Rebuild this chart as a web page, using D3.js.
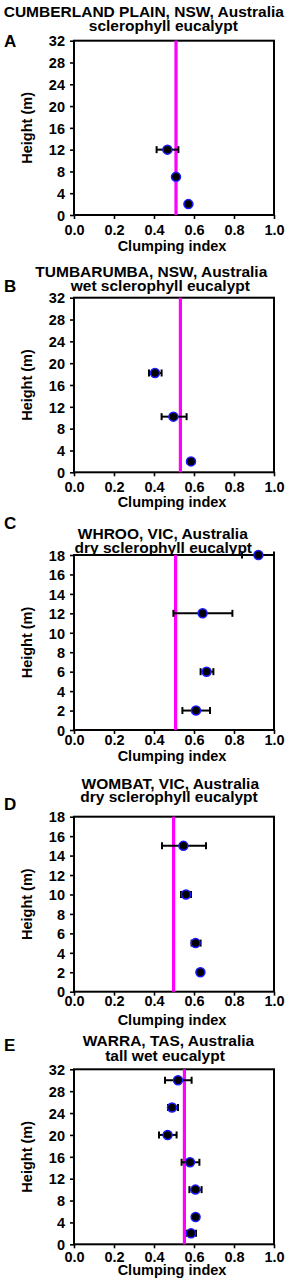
<!DOCTYPE html>
<html>
<head>
<meta charset="utf-8">
<script src="https://cdn.jsdelivr.net/npm/d3@7"></script>
<style>
  body { margin: 0; background: #fff; }
  text { font-family: "Liberation Sans", Arial, sans-serif; font-weight: bold; fill: #000; }
</style>
</head>
<body>
<svg id="chart" width="287" height="1286"></svg>
<script>
// ---- data ----
const titlesA = ["CUMBERLAND PLAIN, NSW, Australia", "sclerophyll eucalypt"];
const heightA = [12, 7, 2];
const ciA     = [0.467, 0.51, 0.572];
const loA     = [0.413, 0.51, 0.572];
const hiA     = [0.522, 0.51, 0.572];
const meanA   = 0.51;

const titlesB = ["TUMBARUMBA, NSW, Australia", "wet sclerophyll eucalypt"];
const heightB = [18.2, 10.2, 2];
const ciB     = [0.405, 0.497, 0.585];
const loB     = [0.375, 0.438, 0.585];
const hiB     = [0.438, 0.563, 0.585];
const meanB   = 0.532;

const titlesC = ["WHROO, VIC, Australia", "dry sclerophyll eucalypt"];
const heightC = [18, 12, 6, 2];
const ciC     = [0.922, 0.643, 0.663, 0.61];
const loC     = [0.84, 0.497, 0.633, 0.542];
const hiC     = [1.0, 0.792, 0.697, 0.68];
const meanC   = 0.508;

const titlesD = ["WOMBAT, VIC, Australia", "dry sclerophyll eucalypt"];
const heightD = [15, 10, 5, 2];
const ciD     = [0.547, 0.56, 0.608, 0.632];
const loD     = [0.44, 0.535, 0.588, 0.632];
const hiD     = [0.66, 0.585, 0.633, 0.632];
const meanD   = 0.498;

const titlesE = ["WARRA, TAS, Australia", "tall wet eucalypt"];
const heightE = [30, 25, 20, 15, 10, 5, 2];
const ciE     = [0.52, 0.49, 0.468, 0.58, 0.607, 0.608, 0.585];
const loE     = [0.455, 0.47, 0.425, 0.538, 0.577, 0.608, 0.565];
const hiE     = [0.588, 0.52, 0.513, 0.627, 0.638, 0.608, 0.61];
const meanE   = 0.552;

const xTicks   = [0, 0.2, 0.4, 0.6, 0.8, 1.0];
const yTicks32 = [0, 4, 8, 12, 16, 20, 24, 28, 32];
const yTicks18 = [0, 2, 4, 6, 8, 10, 12, 14, 16, 18];

// ---- layout for each panel ----
const panels = [
  {letter: "A", titles: titlesA, h: heightA, ci: ciA, lo: loA, hi: hiA, mean: meanA, ymax: 32, yt: yTicks32,
   top: 40.7, bottom: 215, t1: 16.5, t2: 30.5, tx: [143.8, 163.3], letterY: 46.7, tickY: 235, xlabY: 250.5},
  {letter: "B", titles: titlesB, h: heightB, ci: ciB, lo: loB, hi: hiB, mean: meanB, ymax: 32, yt: yTicks32,
   top: 297.7, bottom: 472.3, t1: 276.5, t2: 290.5, tx: [151.3, 160.3], letterY: 291.7, tickY: 491.7, xlabY: 507},
  {letter: "C", titles: titlesC, h: heightC, ci: ciC, lo: loC, hi: hiC, mean: meanC, ymax: 18, yt: yTicks18,
   top: 555, bottom: 730, t1: 539, t2: 553, tx: [162.8, 163.3], letterY: 529.3, tickY: 745, xlabY: 761},
  {letter: "D", titles: titlesD, h: heightD, ci: ciD, lo: loD, hi: hiD, mean: meanD, ymax: 18, yt: yTicks18,
   top: 816.7, bottom: 991.7, t1: 788.5, t2: 802, tx: [170.3, 169], letterY: 810, tickY: 1005.7, xlabY: 1025},
  {letter: "E", titles: titlesE, h: heightE, ci: ciE, lo: loE, hi: hiE, mean: meanE, ymax: 32, yt: yTicks32,
   top: 1069.3, bottom: 1244.3, t1: 1046.3, t2: 1060.5, tx: [168.5, 165], letterY: 1050.7, tickY: 1261.5, xlabY: 1275}
];

const left = 74, right = 274;
const svg = d3.select("#chart");

panels.forEach(p => {
  const x = d3.scaleLinear().domain([0, 1]).range([left, right]);
  const y = d3.scaleLinear().domain([0, p.ymax]).range([p.bottom, p.top]);
  const g = svg.append("g");

  // titles + panel letter
  g.append("text").attr("x", p.tx[0]).attr("y", p.t1).attr("text-anchor", "middle")
    .style("font-size", "15.5px").text(p.titles[0]);
  g.append("text").attr("x", p.tx[1]).attr("y", p.t2).attr("text-anchor", "middle")
    .style("font-size", "15.5px").text(p.titles[1]);
  g.append("text").attr("x", 4).attr("y", p.letterY).style("font-size", "17px").text(p.letter);

  // axes
  const xAxis = g.append("g").attr("transform", `translate(0,${p.bottom})`)
    .call(d3.axisBottom(x).tickValues(xTicks).tickFormat(d3.format(".1f")).tickSizeOuter(0).tickSize(4));
  xAxis.selectAll("text").attr("y", null).attr("dy", null)
    .attr("transform", `translate(0,${p.tickY - p.bottom})`).style("font-size", "14.5px");
  const yAxis = g.append("g").attr("transform", `translate(${left},0)`)
    .call(d3.axisLeft(y).tickValues(p.yt).tickSizeOuter(0).tickSize(4).tickPadding(5));
  yAxis.selectAll("text").style("font-size", "14.5px").attr("dy", "0.36em");
  g.selectAll(".domain").remove();
  g.selectAll(".tick line").attr("stroke", "#000").attr("stroke-width", 1.6);

  // frame
  g.append("rect").attr("x", left).attr("y", p.top).attr("width", right - left).attr("height", p.bottom - p.top)
    .attr("fill", "none").attr("stroke", "#000").attr("stroke-width", 2);

  // axis labels
  g.append("text").attr("x", 172).attr("y", p.xlabY).attr("text-anchor", "middle")
    .style("font-size", "14.5px").text("Clumping index");
  g.append("text").attr("transform", `translate(32,${(p.top + p.bottom) / 2}) rotate(-90)`)
    .attr("text-anchor", "middle").style("font-size", "14.5px").text("Height (m)");

  // mean line
  g.append("line").attr("x1", x(p.mean)).attr("x2", x(p.mean)).attr("y1", p.top).attr("y2", p.bottom)
    .attr("stroke", "#ff00ff").attr("stroke-width", 3.2);

  const idx = d3.range(p.h.length);
  // error bars
  const eb = g.append("g").attr("stroke", "#000").attr("stroke-width", 2);
  eb.selectAll("line.bar").data(idx.filter(i => p.hi[i] > p.lo[i])).join("line")
    .attr("x1", i => x(p.lo[i])).attr("x2", i => x(p.hi[i]))
    .attr("y1", i => y(p.h[i])).attr("y2", i => y(p.h[i]));
  ["lo", "hi"].forEach(k => {
    eb.selectAll("line.cap" + k).data(idx.filter(i => p.hi[i] > p.lo[i])).join("line")
      .attr("x1", i => x(p[k][i])).attr("x2", i => x(p[k][i]))
      .attr("y1", i => y(p.h[i]) - 3.5).attr("y2", i => y(p.h[i]) + 3.5);
  });

  // points
  g.selectAll("circle").data(idx).join("circle")
    .attr("cx", i => x(p.ci[i])).attr("cy", i => y(p.h[i])).attr("r", 4.5)
    .attr("fill", "#000").attr("stroke", "#1a1aff").attr("stroke-width", 1.5);
});
</script>
</body>
</html>
